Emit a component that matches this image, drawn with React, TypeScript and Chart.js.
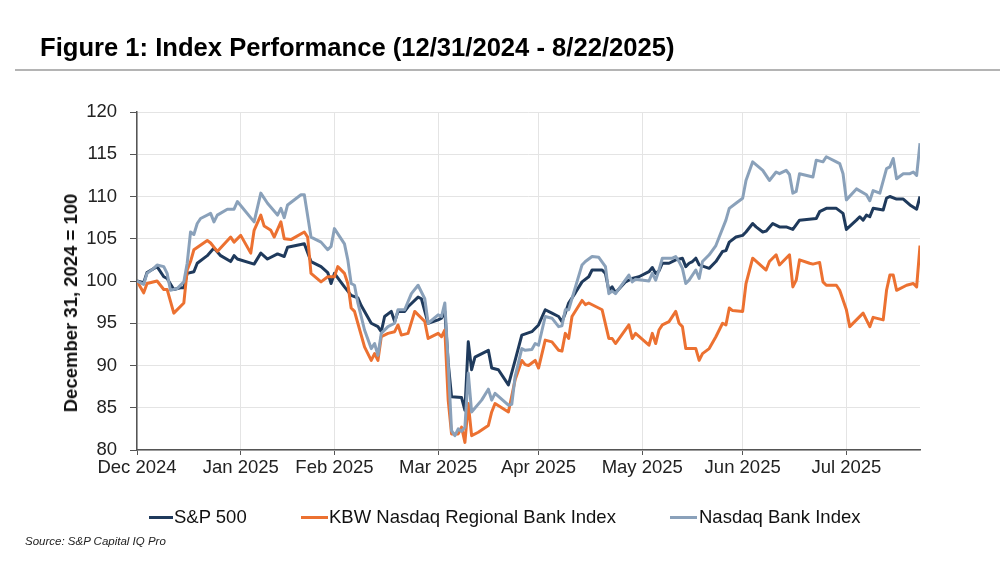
import React, { useEffect, useRef } from "react";
import { Chart, registerables } from "chart.js";

Chart.register(...registerables);

const FONT = '"Liberation Sans", Arial, Helvetica, sans-serif';

// Days since 12/31/2024 for each month-end tick, and their labels
const monthTickDays = [0, 31, 59, 90, 120, 151, 181, 212];
const monthTickLabels = ["Dec 2024", "Jan 2025", "Feb 2025", "Mar 2025", "Apr 2025", "May 2025", "Jun 2025", "Jul 2025"];
const yMin = 80;
const yMax = 120;
const yStep = 5;
const lastDay = 234; // 8/22/2025

// S&P 500 (days since 12/31/2024, index level)
const spDays = [0,2,3,6,8,9,11,13,14,15,17,18,21,23,25,28,29,30,35,37,39,42,44,45,50,52,55,57,58,59,62,64,66,67,70,72,73,74,76,77,78,80,81,84,85,87,90,91,92,93,94,97,98,99,100,101,105,106,108,111,113,115,118,120,122,124,126,127,128,129,131,133,135,136,139,140,141,142,143,146,148,150,153,154,155,156,157,159,161,163,164,165,166,167,168,171,173,175,176,177,179,181,182,184,185,187,188,190,192,194,196,198,203,204,206,209,211,212,215,216,217,218,219,220,223,224,225,227,229,231,233,234];
const spValues = [100,99.8,101,101.7,100.5,100.3,99.0,99.2,99.2,100.9,101.1,102.1,103,103.9,103,102.3,103,102.6,102,103.3,102.6,103.2,102.9,104,104.4,102.3,101.7,101,99.7,100.9,99.3,98.3,98,97.1,95,94.6,94,95.8,96.4,95.2,96.4,96.4,96.95,98.1,97.9,95,95.4,95.6,96.4,90.3,86.3,86.2,84.7,92.8,89.5,91,91.8,89.7,89.5,87.7,90.6,93.6,94,94.8,96.6,96.2,95.8,95.2,96.2,97.4,98.6,99.9,100.5,101.3,101.3,100.9,98.9,99.3,98.6,99.9,100.3,100.5,101.1,101.6,100.9,101.2,102.1,102.1,102.5,102.7,101.7,102.1,102.3,102.7,101.9,101.5,102.3,103.5,103.6,104.6,105.2,105.4,105.8,106.8,106.4,105.8,105.9,106.8,106.4,106.4,106.1,107.2,107.4,108.2,108.6,108.6,108,106.1,107.2,107.6,107.2,107.8,107.6,108.6,108.4,109.8,110,109.7,109.7,109,108.5,110];

// KBW Nasdaq Regional Bank Index
const kbwDays = [0,1,2,3,6,8,9,11,14,15,16,17,21,22,24,28,29,31,34,35,37,38,40,41,43,44,46,50,51,52,55,57,59,60,62,63,64,65,66,68,70,71,72,73,75,77,78,79,81,83,86,87,90,91,92,93,94,96,97,98,99,100,102,105,106,107,111,113,115,116,117,119,120,122,124,126,127,128,129,130,133,134,135,139,141,142,143,147,148,149,153,154,155,156,157,159,161,162,163,164,167,168,169,171,173,175,176,177,178,181,182,184,188,189,191,192,195,196,197,198,201,202,204,205,206,209,210,212,213,217,219,220,223,224,225,226,227,230,232,233,234];
const kbwValues = [100,99.3,98.6,99.7,100,99,99,96.2,97.4,101.3,102.3,103.7,104.8,104.5,103.5,105.2,104.6,105.4,103.3,106,107.8,106.5,106,105.2,107,105,104.9,105.8,105.2,100.9,99.9,100.5,100.5,101.7,100.9,99.7,96.8,96.4,95,92.2,90.6,91.4,90.6,93.4,93.8,94,94.8,93.6,93.8,96.4,95.2,93.2,93.8,93.4,94.2,85.9,81.9,81.9,82.7,80.9,85.5,81.7,82.1,82.9,84.5,85.5,84.5,88.3,90.6,90.1,90,90.6,89.7,93,92.8,91.8,91.7,93.8,93.2,95.8,97.7,97.2,97.4,96.6,93.2,93.2,92.6,94.8,93.2,93.8,92.4,93.8,92.6,94.2,94.8,95.2,96.4,95,94.6,92,92,90.6,91.4,92,93.4,95,94.8,96.8,96.5,96.4,99.7,102.7,101.3,102.3,103.1,101.9,103.1,99.3,100.1,102.5,102.1,102,102.2,99.9,99.5,99.5,98.9,96.6,94.6,96.2,94.6,95.7,95.4,98.9,100.7,100.7,98.9,99.5,99.7,99.3,104.2];

// Nasdaq Bank Index
const nbDays = [0,2,3,5,6,8,9,10,12,14,15,16,17,18,19,22,23,24,27,29,30,35,37,39,42,43,44,45,49,50,52,55,57,58,59,62,63,64,65,66,68,70,71,72,73,75,77,78,80,82,84,86,87,90,91,92,93,94,95,96,97,98,99,100,103,105,106,107,111,112,113,115,116,118,119,120,122,124,126,127,128,129,133,134,136,138,140,141,142,143,147,148,149,153,154,155,156,157,160,161,162,163,164,165,167,168,169,171,173,174,176,177,179,181,182,184,187,189,191,192,194,195,196,197,198,202,203,205,206,209,210,211,212,215,218,219,220,222,224,225,226,227,229,231,232,233,234];
const nbValues = [100,99.6,100.9,101.5,101.9,101.7,100.9,98.9,99.1,99.9,102.1,105.8,105.5,106.8,107.4,108,107,107.8,108.5,108.5,109.4,107,110.4,109.2,107.8,108.6,107.5,109,110.2,110.2,105.2,104.6,103.7,104.1,106.2,104.4,102.5,99.7,99.5,97.4,94.2,92,92.6,91.2,93.8,94.6,95,96.6,96.6,98.5,99.5,97.9,95,96,95.8,97.4,90.3,82.3,81.7,82.5,82.2,82.7,89.1,84.5,85.9,87.2,85.9,86.7,85.3,85.4,88.7,92,91.8,91.9,92.6,92.4,95.8,95.6,94.6,94.7,96.6,96.6,101.9,102.3,102.9,102.8,101.7,98.5,98.8,98.5,100.7,99.9,100.2,100,100.9,100.1,101.3,102.7,102.7,102.9,102.3,101.5,99.7,100.1,101.3,100.3,102.3,103.1,104.2,105.2,107.2,108.6,109.2,109.8,111.9,114.1,113.1,111.9,112.9,112.7,113.1,112.6,110.4,110.6,112.7,112.3,114.3,114.1,114.7,114.1,113.9,112.7,109.6,110.9,110.2,109.5,110.7,110.4,113.3,113.5,114.5,112.1,112.7,112.7,112.9,112.5,116.3];

const seriesNames = ["S&P 500", "KBW Nasdaq Regional Bank Index", "Nasdaq Bank Index"];
const seriesColors = ["#1f3a5c", "#ec7131", "#8aa1ba"];

const toPoints = (days: number[], vals: number[]) => days.map((d, i) => ({ x: d, y: vals[i] }));

export default function App() {
  const canvasRef = useRef<HTMLCanvasElement | null>(null);

  useEffect(() => {
    document.body.style.margin = "0";
    const canvas = canvasRef.current;
    if (!canvas) return;
    const tickFont = { family: FONT, size: 18.5 };
    const chart = new Chart(canvas, {
      type: "line",
      data: {
        datasets: [
          { label: seriesNames[0], data: toPoints(spDays, spValues), borderColor: seriesColors[0], backgroundColor: seriesColors[0], order: 3 },
          { label: seriesNames[1], data: toPoints(kbwDays, kbwValues), borderColor: seriesColors[1], backgroundColor: seriesColors[1], order: 2 },
          { label: seriesNames[2], data: toPoints(nbDays, nbValues), borderColor: seriesColors[2], backgroundColor: seriesColors[2], order: 1 },
        ],
      },
      options: {
        animation: false,
        responsive: false,
        layout: { padding: { top: 112, right: 80, left: 0, bottom: 0 } },
        plugins: { legend: { display: false }, title: { display: false }, tooltip: { enabled: false } },
        elements: { point: { radius: 0 }, line: { borderWidth: 3, tension: 0, borderJoinStyle: "round" } },
        scales: {
          x: {
            type: "linear",
            min: 0,
            max: lastDay,
            afterBuildTicks: (s: any) => {
              s.ticks = monthTickDays.map((v) => ({ value: v }));
            },
            afterFit: (s: any) => {
              s.height = 118;
            },
            grid: { color: "#e4e4e4", lineWidth: 1, tickLength: 5, tickColor: "#555" },
            border: { color: "#555", width: 1.5 },
            ticks: {
              autoSkip: false,
              maxRotation: 0,
              padding: 2,
              color: "#222",
              font: tickFont,
              callback: (_v: any, i: number) => monthTickLabels[i],
            },
          },
          y: {
            type: "linear",
            min: yMin,
            max: yMax,
            afterFit: (s: any) => {
              s.width = 137;
            },
            grid: { color: "#e4e4e4", lineWidth: 1, tickLength: 7, tickColor: "#555" },
            border: { color: "#555", width: 1.5 },
            ticks: { stepSize: yStep, padding: 13, color: "#222", font: tickFont },
          },
        },
      },
    } as any);
    return () => chart.destroy();
  }, []);

  const legendItems = [
    { marker: 149, mw: 24, text: 174 },
    { marker: 301, mw: 27, text: 329 },
    { marker: 670, mw: 27, text: 699 },
  ];

  return (
    <div style={{ position: "relative", width: 1000, height: 568, background: "#fff", overflow: "hidden", fontFamily: FONT }}>
      <canvas ref={canvasRef} width={1000} height={568} style={{ position: "absolute", left: 0, top: 0, width: 1000, height: 568 }} />
      <div style={{ position: "absolute", left: 40, top: 32, fontSize: 25.6, fontWeight: "bold", lineHeight: "30px", whiteSpace: "nowrap", color: "#000" }}>
        Figure 1: Index Performance (12/31/2024 - 8/22/2025)
      </div>
      <div style={{ position: "absolute", left: 15, top: 69, width: 985, height: 2, background: "#b4b4b4" }} />
      <div
        style={{
          position: "absolute",
          left: 70.5,
          top: 303,
          transform: "translate(-50%, -50%) rotate(-90deg)",
          fontSize: 18.5,
          fontWeight: "bold",
          whiteSpace: "nowrap",
          color: "#111",
          lineHeight: "22px",
        }}
      >
        December 31, 2024 = 100
      </div>
      {legendItems.map((it, i) => (
        <React.Fragment key={i}>
          <div style={{ position: "absolute", left: it.marker, top: 516, width: it.mw, height: 3, background: seriesColors[i] }} />
          <div style={{ position: "absolute", left: it.text, top: 506, fontSize: 18.5, lineHeight: "22px", whiteSpace: "nowrap", color: "#111" }}>
            {seriesNames[i]}
          </div>
        </React.Fragment>
      ))}
      <div style={{ position: "absolute", left: 25, top: 534, fontSize: 11.5, fontStyle: "italic", lineHeight: "14px", whiteSpace: "nowrap", color: "#222" }}>
        Source: S&amp;P Capital IQ Pro
      </div>
    </div>
  );
}
